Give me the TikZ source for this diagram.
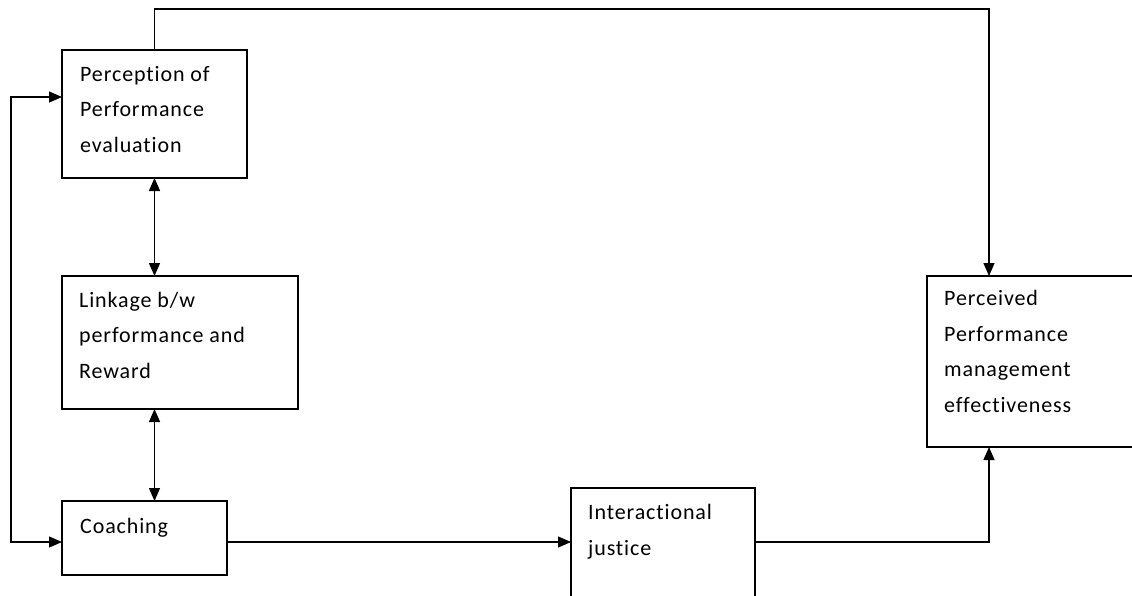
\documentclass[tikz,border=0pt]{standalone}
\usepackage{fontspec}
\setmainfont{Carlito}[LetterSpace=4, Ligatures={NoCommon}]
\usetikzlibrary{arrows.meta}
\tikzset{
  x=1pt, y=-1pt,
  boxnode/.style={draw, line width=1.3pt, anchor=north west, inner sep=0pt, outer sep=0pt},
  txt/.style={anchor=base west, inner sep=0pt, align=left, font=\fontsize{22}{35.5}\selectfont},
  conn/.style={line width=1.3pt},
  arr/.style={conn, -{Triangle[length=13pt,width=11pt]}},
  darr/.style={conn, {Triangle[length=13pt,width=11pt]}-{Triangle[length=13pt,width=11pt]}},
}
\begin{document}
\begin{tikzpicture}
\clip (0,0) rectangle (1132,595);
\fill[white] (0,0) rectangle (1132,595);
% boxes
\node[boxnode, minimum width=185pt, minimum height=128pt] (perc) at (62,50) {};
\node[boxnode, minimum width=236pt, minimum height=133pt] (link) at (62,276) {};
\node[boxnode, minimum width=165pt, minimum height=74pt] (coach) at (62,501) {};
\node[boxnode, minimum width=184pt, minimum height=120pt] (inter) at (571,488) {};
\node[boxnode, minimum width=220pt, minimum height=171pt] (pme) at (927,276) {};
% texts (anchored at the baseline of their last line)
\node[txt] (percT) at (80,152) {Perception of\\Performance\\evaluation};
\node[txt] (linkT) at (79,378) {Linkage b/w\\performance and\\Reward};
\node[txt] (coachT) at (80,533) {Coaching};
\node[txt] (interT) at (588,555) {Interactional\\justice};
\node[txt] (pmeT) at (944,412) {Perceived\\Performance\\management\\effectiveness};
% helper coordinates
\coordinate (topR) at (989,9);
\coordinate (leftX) at (11,0);
% connectors
\draw[arr] (perc.north) |- (topR) -- (topR |- pme.north);
\draw[darr] ([yshift=17pt]perc.west) -- ([yshift=17pt]perc.west -| leftX) |- ([yshift=-4pt]coach.west);
\draw[darr] (perc.south) -- (perc.south |- link.north);
\draw[darr] (perc.south |- link.south) -- (perc.south |- coach.north);
\draw[arr] ([yshift=-4pt]coach.east) -- ([yshift=-4pt]coach.east -| inter.west);
\draw[arr] ([yshift=-4pt]coach.east -| inter.east) -| (topR |- pme.south);
\end{tikzpicture}
\end{document}
